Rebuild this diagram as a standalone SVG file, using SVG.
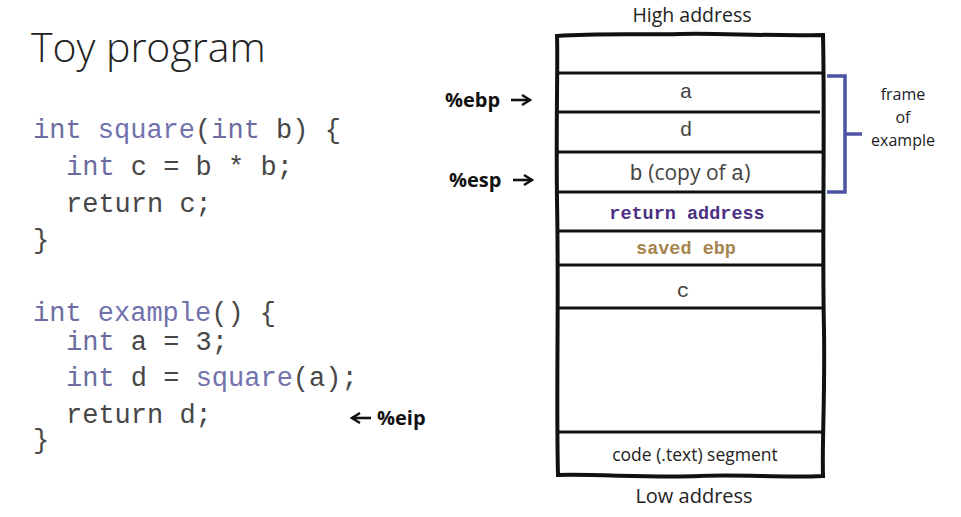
<svg xmlns="http://www.w3.org/2000/svg" width="961" height="517" viewBox="0 0 961 517">
<defs>
<marker id="ah" viewBox="0 0 12 12" refX="10" refY="6" markerWidth="12" markerHeight="12" markerUnits="userSpaceOnUse" orient="auto">
<path d="M2,1 L10,6 L2,11" fill="none" stroke="#111" stroke-width="2.4"/>
</marker>
</defs>
<style>
.code{font-family:"Liberation Mono","Courier New",monospace;font-size:27px;fill:#474747}
.kw{fill:#6c6ca0}
.fn{fill:#7272ad}
.lbl{font-family:"Open Sans","Liberation Sans",sans-serif;font-weight:700;font-size:20px;fill:#111}
.cell{font-family:"Liberation Mono","Courier New",monospace;font-size:21px;fill:#444;text-anchor:middle}
.sans{font-family:"Open Sans","Liberation Sans",sans-serif;fill:#222}
.sep{stroke:#111;stroke-width:3;fill:none}
.arr{stroke:#111;stroke-width:2.6;fill:none}
</style>
<rect width="961" height="517" fill="#fff"/>
<text x="31" y="62" class="sans" style="font-size:41px;font-weight:300">Toy program</text>
<g id="code">
<text class="code" x="33" y="138"><tspan class="kw">int</tspan> <tspan class="fn">square</tspan>(<tspan class="kw">int</tspan> b) {</text>
<text class="code" x="66" y="175"><tspan class="kw">int</tspan> c = b * b;</text>
<text class="code" x="66" y="212">return c;</text>
<text class="code" x="33" y="248">}</text>
<text class="code" x="33" y="321"><tspan class="kw">int</tspan> <tspan class="fn">example</tspan>() {</text>
<text class="code" x="66" y="350"><tspan class="kw">int</tspan> a = 3;</text>
<text class="code" x="66" y="386"><tspan class="kw">int</tspan> d = <tspan class="fn">square</tspan>(a);</text>
<text class="code" x="66" y="423">return d;</text>
<text class="code" x="33" y="448">}</text>
</g>
<g id="pointers">
<text class="lbl" x="445" y="107">%ebp</text>
<text class="lbl" x="449" y="187">%esp</text>
<text class="lbl" x="377" y="425">%eip</text>
</g>
<g id="connectors">
<line class="arr" x1="511" y1="100" x2="530" y2="100" marker-end="url(#ah)"/>
<line class="arr" x1="513" y1="180" x2="532" y2="180" marker-end="url(#ah)"/>
<line class="arr" x1="371" y1="418" x2="352" y2="418" marker-end="url(#ah)"/>
</g>
<text x="692" y="22" class="sans" style="font-size:19.5px" text-anchor="middle">High address</text>
<text x="694" y="503" class="sans" style="font-size:20px" text-anchor="middle">Low address</text>
<g id="stack">
<path d="M557,36 C600,33 640,35 680,34 C720,33 760,36 823,35 C825,120 822,250 824,330 C825,400 822,440 823,476 C780,478 740,474 700,476 C650,478 600,474 558,475 C556,400 559,300 557,200 C556,120 558,60 557,36 Z" fill="none" stroke="#111" stroke-width="4"/>
<line class="sep" x1="558" y1="73" x2="822" y2="73"/>
<line class="sep" x1="558" y1="112" x2="820" y2="112"/>
<line class="sep" x1="558" y1="152" x2="822" y2="152"/>
<line class="sep" x1="558" y1="192" x2="822" y2="192"/>
<line class="sep" x1="558" y1="231" x2="822" y2="231"/>
<line class="sep" x1="558" y1="265" x2="822" y2="265"/>
<line class="sep" x1="558" y1="308" x2="822" y2="308"/>
<line class="sep" x1="558" y1="432" x2="822" y2="432"/>
<text class="cell" x="686" y="98">a</text>
<text class="cell" x="686" y="136">d</text>
<text x="690" y="180" class="sans" style="font-size:21px;fill:#444" text-anchor="middle"><tspan style="font-family:'Liberation Mono',monospace;font-size:22px">b</tspan> (copy of <tspan style="font-family:'Liberation Mono',monospace;font-size:22px">a</tspan>)</text>
<text x="687" y="219" text-anchor="middle" style="font-family:'Liberation Mono','Courier New',monospace;font-weight:700;font-size:18.5px;fill:#4c2f85">return address</text>
<text x="686" y="254" text-anchor="middle" style="font-family:'Liberation Mono','Courier New',monospace;font-weight:700;font-size:18.5px;fill:#a5844e">saved ebp</text>
<text class="cell" x="683" y="297">c</text>
<text x="695" y="461" class="sans" style="font-size:17.5px" text-anchor="middle">code (.text) segment</text>
</g>
<g id="frame">
<path d="M827,76 H845 V192 H827 M845,134 H862" fill="none" stroke="#4d53a3" stroke-width="3.5"/>
<text class="sans" style="font-size:16px" text-anchor="middle"><tspan x="903" y="100">frame</tspan><tspan x="903" y="123">of</tspan><tspan x="903" y="146">example</tspan></text>
</g>
</svg>
